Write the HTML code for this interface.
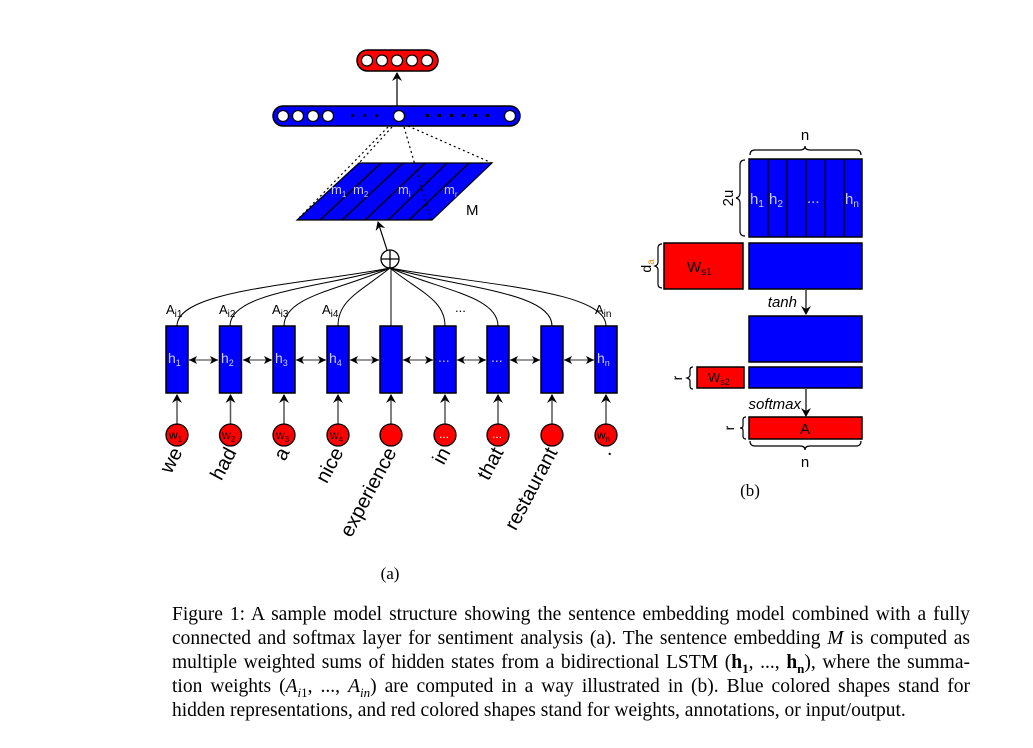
<!DOCTYPE html>
<html><head><meta charset="utf-8"><style>
body{margin:0;background:#fff;width:1033px;height:748px;overflow:hidden;position:relative}
svg{position:absolute;left:0;top:0}
.cap{position:absolute;left:172px;top:603px;width:798px;font-family:"Liberation Serif",serif;font-size:19.5px;line-height:24px;color:#000}
.cap div{text-align:justify;text-align-last:justify;white-space:nowrap;height:24px}
.cap div.l{text-align-last:left}
.cap sub{font-size:13px;line-height:0}
</style></head><body>
<svg width="1033" height="748" viewBox="0 0 1033 748" font-family="Liberation Sans, DejaVu Sans, sans-serif">
<defs><marker id="ar" markerWidth="10" markerHeight="10" refX="8" refY="5" orient="auto" markerUnits="userSpaceOnUse"><path d="M0,0 L9,5 L0,10 L3,5z" fill="#000"/></marker></defs>
<rect x="357" y="50" width="81" height="21" rx="10.5" fill="#f00" stroke="#000" stroke-width="1.5"/>
<g fill="#fff" stroke="#000" stroke-width="1.2"><circle cx="367" cy="60.5" r="5.5"/><circle cx="382" cy="60.5" r="5.5"/><circle cx="397" cy="60.5" r="5.5"/><circle cx="412" cy="60.5" r="5.5"/><circle cx="427" cy="60.5" r="5.5"/></g>
<line x1="397" y1="107" x2="397" y2="73" stroke="#000" stroke-width="1.2" marker-end="url(#ar)"/>
<rect x="273" y="106" width="247" height="20" rx="10" fill="#00f" stroke="#000" stroke-width="1.5"/>
<g fill="#fff" stroke="#000" stroke-width="1.2"><circle cx="283" cy="116" r="5.5"/><circle cx="298" cy="116" r="5.5"/><circle cx="313" cy="116" r="5.5"/><circle cx="328" cy="116" r="5.5"/><circle cx="399" cy="116" r="5.5"/><circle cx="510" cy="116" r="5.5"/></g>
<g fill="#000"><rect x="351" y="114" width="3" height="3"/><rect x="363" y="114" width="3" height="3"/><rect x="375" y="114" width="3" height="3"/><rect x="426" y="114" width="3" height="3"/><rect x="438" y="114" width="3" height="3"/><rect x="450" y="114" width="3" height="3"/><rect x="462" y="114" width="3" height="3"/><rect x="474" y="114" width="3" height="3"/><rect x="486" y="114" width="3" height="3"/></g>
<polygon points="359,163 492,163 432,220 297,220" fill="#00f" stroke="#000" stroke-width="1.2"/>
<g stroke="#000" stroke-width="1.3"><line x1="381" y1="163" x2="320" y2="220"/><line x1="403" y1="163" x2="342" y2="220"/><line x1="425" y1="163" x2="365" y2="220"/><line x1="447" y1="163" x2="388" y2="220"/><line x1="469" y1="163" x2="409" y2="220"/></g>
<g stroke="#000" stroke-width="1.2" stroke-dasharray="2,3" fill="none"><line x1="392" y1="127" x2="359" y2="163"/><line x1="388" y1="127" x2="297" y2="220"/><line x1="404" y1="127" x2="431" y2="220"/><line x1="408" y1="126" x2="492" y2="163"/></g>
<g fill="#ccf" font-size="13"><text x="331" y="194">m<tspan font-size="8" dy="3">1</tspan></text><text x="353" y="194">m<tspan font-size="8" dy="3">2</tspan></text><text x="398" y="194">m<tspan font-size="8" dy="3">i</tspan></text><text x="444" y="194">m<tspan font-size="8" dy="3">r</tspan></text></g>
<text x="466" y="215" font-size="15">M</text>
<line x1="387" y1="250" x2="378" y2="222" stroke="#000" stroke-width="1.2" marker-end="url(#ar)"/>
<circle cx="390" cy="259" r="9" fill="#fff" stroke="#000" stroke-width="1.3"/>
<line x1="381" y1="259" x2="399" y2="259" stroke="#000" stroke-width="1.3"/><line x1="390" y1="250" x2="390" y2="268" stroke="#000" stroke-width="1.3"/>
<g fill="none" stroke="#000" stroke-width="1">
<path d="M390,268 C300,285 177,290 177,326"/>
<path d="M390,268 C320,288 230,292 230,326"/>
<path d="M390,268 C340,290 284,296 284,326"/>
<path d="M390,268 C360,292 338,300 338,326"/>
<path d="M391,268 L391,326"/>
<path d="M390,268 C420,292 445,300 445,326"/>
<path d="M390,268 C440,290 498,296 498,326"/>
<path d="M390,268 C460,288 552,292 552,326"/>
<path d="M390,268 C480,285 606,290 606,326"/>
</g>
<g font-size="13"><text x="166" y="314">A<tspan font-size="10" dy="3">i1</tspan></text><text x="219" y="314">A<tspan font-size="10" dy="3">i2</tspan></text><text x="272" y="314">A<tspan font-size="10" dy="3">i3</tspan></text><text x="322" y="314">A<tspan font-size="10" dy="3">i4</tspan></text><text x="455" y="312">...</text><text x="595" y="314">A<tspan font-size="10" dy="3">in</tspan></text></g>
<g fill="#00f" stroke="#000" stroke-width="1.5">
<rect x="166" y="326" width="22" height="67"/><rect x="219.5" y="326" width="22" height="67"/><rect x="273" y="326" width="22" height="67"/><rect x="327" y="326" width="22" height="67"/><rect x="380" y="326" width="22" height="67"/><rect x="434" y="326" width="22" height="67"/><rect x="487" y="326" width="22" height="67"/><rect x="541" y="326" width="22" height="67"/><rect x="595" y="326" width="22" height="67"/>
</g>
<g fill="#ccf" font-size="14"><text x="168" y="363">h<tspan font-size="9" dy="3">1</tspan></text><text x="221" y="363">h<tspan font-size="9" dy="3">2</tspan></text><text x="275" y="363">h<tspan font-size="9" dy="3">3</tspan></text><text x="329" y="363">h<tspan font-size="9" dy="3">4</tspan></text><text x="438" y="362">...</text><text x="491" y="362">...</text><text x="597" y="363">h<tspan font-size="9" dy="3">n</tspan></text></g>
<g stroke="#777" stroke-width="1.5" fill="none">
<line x1="189" y1="360" x2="218" y2="360"/><line x1="243" y1="360" x2="272" y2="360"/><line x1="296" y1="360" x2="326" y2="360"/><line x1="350" y1="360" x2="379" y2="360"/><line x1="403" y1="360" x2="433" y2="360"/><line x1="457" y1="360" x2="486" y2="360"/><line x1="510" y1="360" x2="540" y2="360"/><line x1="564" y1="360" x2="594" y2="360"/>
</g>
<g fill="#000">
<path d="M189,360 l8,-4 l-2,4 l2,4z M218,360 l-8,-4 l2,4 l-2,4z"/>
<path d="M243,360 l8,-4 l-2,4 l2,4z M272,360 l-8,-4 l2,4 l-2,4z"/>
<path d="M296,360 l8,-4 l-2,4 l2,4z M326,360 l-8,-4 l2,4 l-2,4z"/>
<path d="M350,360 l8,-4 l-2,4 l2,4z M379,360 l-8,-4 l2,4 l-2,4z"/>
<path d="M403,360 l8,-4 l-2,4 l2,4z M433,360 l-8,-4 l2,4 l-2,4z"/>
<path d="M457,360 l8,-4 l-2,4 l2,4z M486,360 l-8,-4 l2,4 l-2,4z"/>
<path d="M510,360 l8,-4 l-2,4 l2,4z M540,360 l-8,-4 l2,4 l-2,4z"/>
<path d="M564,360 l8,-4 l-2,4 l2,4z M594,360 l-8,-4 l2,4 l-2,4z"/>
</g>
<g stroke="#555" stroke-width="1.5" marker-end="url(#ar)">
<line x1="177" y1="424" x2="177" y2="395"/><line x1="230.5" y1="424" x2="230.5" y2="395"/><line x1="284" y1="424" x2="284" y2="395"/><line x1="338" y1="424" x2="338" y2="395"/><line x1="391" y1="424" x2="391" y2="395"/><line x1="445" y1="424" x2="445" y2="395"/><line x1="498" y1="424" x2="498" y2="395"/><line x1="552" y1="424" x2="552" y2="395"/><line x1="606" y1="424" x2="606" y2="395"/>
</g>
<g fill="#f00" stroke="#000" stroke-width="1.3">
<circle cx="177" cy="435" r="11"/><circle cx="230.5" cy="435" r="11"/><circle cx="284" cy="435" r="11"/><circle cx="338" cy="435" r="11"/><circle cx="391" cy="435" r="11"/><circle cx="445" cy="435" r="11"/><circle cx="498" cy="435" r="11"/><circle cx="552" cy="435" r="11"/><circle cx="606" cy="435" r="11"/>
</g>
<g font-size="12" fill="#000"><text x="169" y="439">w<tspan font-size="8" dy="3">1</tspan></text><text x="222" y="439">w<tspan font-size="8" dy="3">2</tspan></text><text x="276" y="439">w<tspan font-size="8" dy="3">3</tspan></text><text x="330" y="439">w<tspan font-size="8" dy="3">4</tspan></text><text x="439" y="438" fill="#fff">...</text><text x="492" y="438" fill="#fff">...</text><text x="597" y="439">w<tspan font-size="8" dy="3">n</tspan></text></g>
<g font-size="20" text-anchor="end">
<text transform="translate(183,452) rotate(-62)">we</text>
<text transform="translate(237,452) rotate(-62)">had</text>
<text transform="translate(290,452) rotate(-62)">a</text>
<text transform="translate(344,452) rotate(-62)">nice</text>
<text transform="translate(397,452) rotate(-62)">experience</text>
<text transform="translate(451,452) rotate(-62)">in</text>
<text transform="translate(504,452) rotate(-62)">that</text>
<text transform="translate(558,452) rotate(-62)">restaurant</text>
<text transform="translate(612,452) rotate(-62)">.</text>
</g>
<text x="390" y="579" font-size="17" font-family="Liberation Serif, serif" text-anchor="middle">(a)</text>

<text x="805" y="140" font-size="15" text-anchor="middle">n</text>
<path d="M750,155 q0,-5 5,-5 h45 q5,0 5,-4 q0,4 5,4 h46 q5,0 5,5" fill="none" stroke="#000" stroke-width="1.2"/>
<rect x="749" y="159" width="113" height="78" fill="#00f" stroke="#000" stroke-width="1.5"/>
<g stroke="#000" stroke-width="1.3"><line x1="768" y1="159" x2="768" y2="237"/><line x1="787" y1="159" x2="787" y2="237"/><line x1="806" y1="159" x2="806" y2="237"/><line x1="825" y1="159" x2="825" y2="237"/><line x1="844" y1="159" x2="844" y2="237"/></g>
<g fill="#ccf" font-size="15"><text x="750" y="204">h<tspan font-size="10" dy="3">1</tspan></text><text x="769" y="204">h<tspan font-size="10" dy="3">2</tspan></text><text x="807" y="203">...</text><text x="845" y="204">h<tspan font-size="10" dy="3">n</tspan></text></g>
<path d="M745,160 q-5,0 -5,5 v28 q0,4 -4,5 q4,1 4,5 v28 q0,5 5,5" fill="none" stroke="#000" stroke-width="1.2"/>
<text transform="translate(733,198) rotate(-90)" font-size="15" text-anchor="middle">2u</text>
<rect x="664" y="243" width="79" height="46" fill="#f00" stroke="#000" stroke-width="1.5"/>
<text x="687" y="272" font-size="15">W<tspan font-size="10" dy="3">s1</tspan></text>
<rect x="749" y="243" width="113" height="46" fill="#00f" stroke="#000" stroke-width="1.5"/>
<path d="M662,244 q-4,0 -4,4 v14 q0,3 -3,4 q3,1 3,4 v14 q0,4 4,4" fill="none" stroke="#000" stroke-width="1.2"/>
<text transform="translate(651,266) rotate(-90)" font-size="14" text-anchor="middle">d<tspan font-size="10" dy="3" fill="#e80">a</tspan></text>
<line x1="806" y1="290" x2="806" y2="314" stroke="#000" stroke-width="1.2" marker-end="url(#ar)"/>
<text x="797" y="307" font-size="15" font-style="italic" text-anchor="end">tanh</text>
<rect x="749" y="316" width="113" height="46" fill="#00f" stroke="#000" stroke-width="1.5"/>
<rect x="697" y="367" width="47" height="21" fill="#f00" stroke="#000" stroke-width="1.5"/>
<text x="708" y="382" font-size="13">W<tspan font-size="9" dy="3">s2</tspan></text>
<rect x="749" y="367" width="113" height="21" fill="#00f" stroke="#000" stroke-width="1.5"/>
<path d="M693,367 q-3,0 -3,3 v5 q0,2 -3,3 q3,1 3,3 v5 q0,3 3,3" fill="none" stroke="#000" stroke-width="1.2"/>
<text transform="translate(682,378) rotate(-90)" font-size="14" text-anchor="middle">r</text>
<line x1="806" y1="389" x2="806" y2="416" stroke="#000" stroke-width="1.2" marker-end="url(#ar)"/>
<text x="801" y="409" font-size="15" font-style="italic" text-anchor="end">softmax</text>
<rect x="749" y="417" width="113" height="22" fill="#f00" stroke="#000" stroke-width="1.5"/>
<text x="805" y="434" font-size="15" text-anchor="middle">A</text>
<path d="M746,417 q-3,0 -3,3 v6 q0,2 -3,2 q3,0 3,2 v6 q0,3 3,3" fill="none" stroke="#000" stroke-width="1.2"/>
<text transform="translate(734,428) rotate(-90)" font-size="14" text-anchor="middle">r</text>
<path d="M750,441 q0,5 5,5 h45 q5,0 5,4 q0,-4 5,-4 h46 q5,0 5,-5" fill="none" stroke="#000" stroke-width="1.2"/>
<text x="805" y="467" font-size="15" text-anchor="middle">n</text>
<text x="750" y="496" font-size="17" font-family="Liberation Serif, serif" text-anchor="middle">(b)</text>
</svg>
<div class="cap">
<div>Figure 1: A sample model structure showing the sentence embedding model combined with a fully</div>
<div>connected and softmax layer for sentiment analysis (a). The sentence embedding <i>M</i> is computed as</div>
<div>multiple weighted sums of hidden states from a bidirectional LSTM (<b>h<sub>1</sub></b>, ..., <b>h<sub>n</sub></b>), where the summa-</div>
<div>tion weights (<i>A</i><sub><i>i</i>1</sub>, ..., <i>A</i><sub><i>in</i></sub>) are computed in a way illustrated in (b). Blue colored shapes stand for</div>
<div class="l">hidden representations, and red colored shapes stand for weights, annotations, or input/output.</div>
</div>
</body></html>
